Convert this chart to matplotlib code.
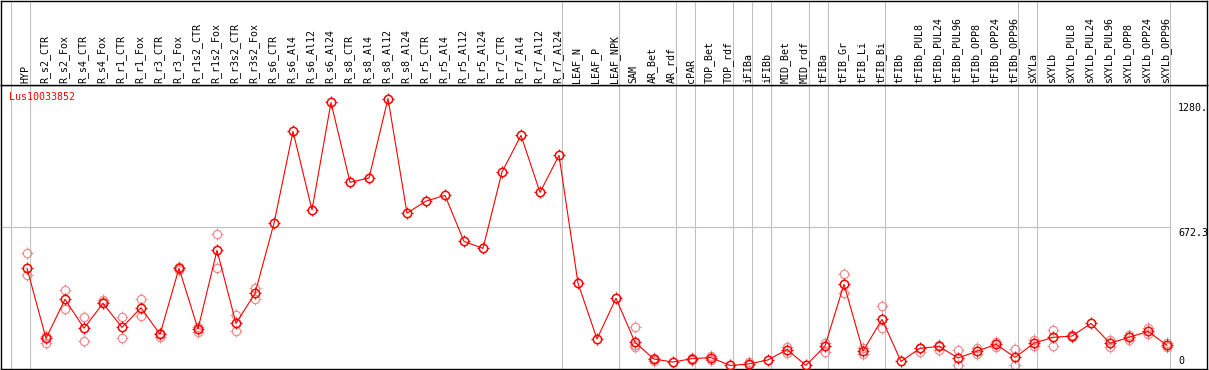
"""Expression profile of one gene across tissues, in a boxed strip layout."""

import matplotlib

matplotlib.use("Agg")
import matplotlib.pyplot as plt
from matplotlib.path import Path
from matplotlib.transforms import blended_transform_factory, offset_copy

GENE_ID = "Lus10033852"

CATEGORIES = [
    "HYP", "R_s2_CTR", "R_s2_Fox", "R_s4_CTR", "R_s4_Fox", "R_r1_CTR", "R_r1_Fox",
    "R_r3_CTR", "R_r3_Fox", "R_r1s2_CTR", "R_r1s2_Fox", "R_r3s2_CTR", "R_r3s2_Fox",
    "R_s6_CTR", "R_s6_Al4", "R_s6_Al12", "R_s6_Al24", "R_s8_CTR", "R_s8_Al4",
    "R_s8_Al12", "R_s8_Al24", "R_r5_CTR", "R_r5_Al4", "R_r5_Al12", "R_r5_Al24",
    "R_r7_CTR", "R_r7_Al4", "R_r7_Al12", "R_r7_Al24", "LEAF_N", "LEAF_P", "LEAF_NPK",
    "SAM", "AR_Bet", "AR_rdf", "cPAR", "TOP_Bet", "TOP_rdf", "iFIBa", "iFIBb",
    "MID_Bet", "MID_rdf", "tFIBa", "tFIB_Gr", "tFIB_Li", "tFIB_Bi", "tFIBb",
    "tFIBb_PUL8", "tFIBb_PUL24", "tFIBb_PUL96", "tFIBb_OPP8", "tFIBb_OPP24",
    "tFIBb_OPP96", "sXYLa", "sXYLb", "sXYLb_PUL8", "sXYLb_PUL24", "sXYLb_PUL96",
    "sXYLb_OPP8", "sXYLb_OPP24", "sXYLb_OPP96",
]

MEAN_VALUES = [
    477, 145, 330, 193, 311, 197, 290, 164, 477, 189, 562, 216, 358,
    690, 1125, 753, 1262, 884, 904, 1280.6, 738, 795, 822, 604, 571,
    933, 1106, 836, 1012, 406, 142, 335,
    126, 47, 33, 49, 54, 17, 24, 43, 92, 17,
    109, 401, 85, 235, 36, 98, 107, 52, 84, 117, 55,
    122, 150, 156, 216, 122, 150, 178, 112,
]

REPLICATES = [
    [548, 443], [158, 125], [373, 283], [248, 131], [327, 316], [248, 145],
    [330, 252], [172, 151], [484, 470], [200, 177], [641, 477], [254, 178],
    [385, 331],
    [], [], [], [], [], [], [], [], [], [], [], [], [], [], [], [], [], [], [],
    [197, 103, 114], [39, 52], [], [52, 44], [63, 41], [], [35, 17], [],
    [103, 74], [],
    [125, 79], [448, 361], [101, 69], [297, 196], [], [101, 79], [114, 90],
    [90, 17], [101, 71], [129, 106], [93, 17],
    [137, 109], [185, 109], [153, 161], [], [139, 103], [161, 137], [193, 164],
    [122, 106],
]

# a separator line is drawn just right of these categories (plus one before the first)
GROUP_ENDS = [
    "HYP", "R_r7_Al24", "LEAF_NPK", "AR_rdf", "cPAR", "TOP_rdf", "iFIBa", "iFIBb",
    "MID_rdf", "tFIBa", "tFIB_Bi", "tFIBb_OPP96", "sXYLa", "sXYLb_OPP96",
]

FIG_W, FIG_H = 1209, 370
HEADER_BOTTOM = 85
PLOT_BOTTOM = 369
LEFT, RIGHT = 1, 1207
FIRST_X, STEP = 27, 19
MONO = "DejaVu Sans Mono"
FS = 7.2
GRID = "#c0c0c0"
RED = "#ff0000"
PALE = "#f08c8c"
RING_MS = 6.0

# four short ticks sitting just outside a unit circle
SPOKES = Path(
    [(0, 1), (0, 1.4), (0, -1), (0, -1.4), (1, 0), (1.4, 0), (-1, 0), (-1.4, 0)],
    [Path.MOVETO, Path.LINETO] * 4,
)


def ringed(ax: plt.Axes, xs, ys, color: str, mew: float, zorder: int) -> None:
    """Open circle markers with small outward ticks."""

    ax.plot(xs, ys, linestyle="none", marker="o", ms=RING_MS, mfc="none",
            mec=color, mew=mew, zorder=zorder)
    ax.plot(xs, ys, linestyle="none", marker=SPOKES, ms=RING_MS * 1.4,
            mec=color, mew=mew * 0.8, zorder=zorder)


def main() -> None:
    fig = plt.figure(figsize=(FIG_W / 100, FIG_H / 100), dpi=100)
    fig.patch.set_facecolor("white")

    x_lo = (LEFT - FIRST_X) / STEP
    x_hi = (RIGHT - FIRST_X) / STEP

    ax = fig.add_axes([
        LEFT / FIG_W,
        (FIG_H - PLOT_BOTTOM) / FIG_H,
        (RIGHT - LEFT) / FIG_W,
        (PLOT_BOTTOM - HEADER_BOTTOM) / FIG_H,
    ])
    head = fig.add_axes([
        LEFT / FIG_W,
        (FIG_H - HEADER_BOTTOM) / FIG_H,
        (RIGHT - LEFT) / FIG_W,
        (HEADER_BOTTOM - 0.6) / FIG_H,
    ])

    for a in (ax, head):
        a.set_xlim(x_lo, x_hi)
        a.set_xticks([])
        a.set_yticks([])
        for spine in a.spines.values():
            spine.set_color("black")
            spine.set_linewidth(1.0)
    head.set_ylim(HEADER_BOTTOM, 0)

    vmax = max(MEAN_VALUES)
    ymax = vmax * 1.05
    ax.set_ylim(0, ymax)

    # group separators
    seps = [-1 + 0.16] + [CATEGORIES.index(name) + 0.16 for name in GROUP_ENDS]
    for a in (ax, head):
        for s in seps:
            a.axvline(s, color=GRID, lw=0.8, zorder=0)
    ax.plot([x_lo, seps[-1]], [ymax / 2, ymax / 2], color=GRID, lw=0.8, zorder=0)

    # category labels
    for i, name in enumerate(CATEGORIES):
        head.text(
            i - 0.07, HEADER_BOTTOM - 2.5, name, rotation=90, ha="center", va="bottom",
            family=MONO, fontsize=FS, color="black",
        )

    for i, reps in enumerate(REPLICATES):
        if reps:
            ringed(ax, [i] * len(reps), reps, PALE, 0.9, 2)
    xs = list(range(len(CATEGORIES)))
    ax.plot(xs, MEAN_VALUES, color=RED, lw=0.8, zorder=3)
    ringed(ax, xs, MEAN_VALUES, RED, 1.1, 4)

    ax.text(
        (9 - LEFT) / (RIGHT - LEFT), 1 - 7 / (PLOT_BOTTOM - HEADER_BOTTOM), GENE_ID,
        transform=ax.transAxes, ha="left", va="top", family=MONO, fontsize=FS, color=RED,
    )

    # value labels at the right
    label_x = (1178 - LEFT) / (RIGHT - LEFT)
    trans = blended_transform_factory(ax.transAxes, ax.transData)
    ax.text(
        label_x, vmax, f"{vmax:.1f}"[:5], ha="left", va="top", family=MONO, fontsize=FS,
        transform=offset_copy(trans, fig=fig, y=-4, units="dots"), clip_on=False,
    )
    ax.text(
        label_x, ymax / 2, f"{ymax / 2:.1f}"[:5], ha="left", va="top", family=MONO,
        fontsize=FS, transform=offset_copy(trans, fig=fig, y=-1, units="dots"),
    )
    ax.text(
        label_x, 0, "0", ha="left", va="bottom", family=MONO, fontsize=FS,
        transform=offset_copy(trans, fig=fig, y=3, units="dots"),
    )

    fig.savefig("out.png", dpi=100)
    plt.close(fig)


if __name__ == "__main__":
    main()
